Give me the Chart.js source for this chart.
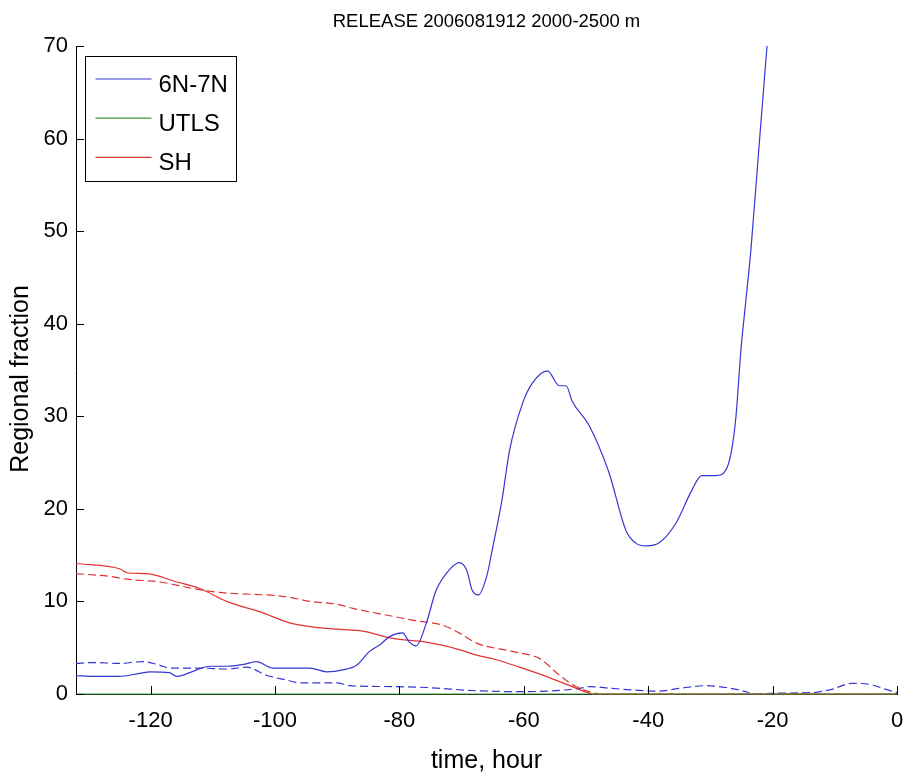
<!DOCTYPE html>
<html>
<head>
<meta charset="utf-8">
<script src="https://cdn.jsdelivr.net/npm/chart.js@4"></script>
<style>
  html, body { margin: 0; padding: 0; background: #fff; }
  canvas { display: block; }
</style>
</head>
<body>
<canvas id="chart" width="904" height="773"></canvas>
<script>
const TITLE = "RELEASE 2006081912 2000-2500 m";
const X_LABEL = "time, hour";
const Y_LABEL = "Regional fraction";
const X_TICKS = [-120, -100, -80, -60, -40, -20, 0];
const Y_TICKS = [0, 10, 20, 30, 40, 50, 60, 70];

// 6N-7N, solid
const blueHours = [-132, -129, -125, -122, -120, -117, -115.8, -113, -110.5, -107.8, -105, -103, -100.4, -97, -94.4, -91.7, -89.1, -86.9, -84.8, -83, -81.6, -79.5, -78.4, -77.3, -75.7, -74.1, -72, -70.4, -69.2, -68.3, -67.3, -65.9, -65.1, -63.5, -62.3, -60.2, -58.6, -56.2, -54.3, -53.2, -52.2, -49.5, -46.3, -43.6, -42, -40.3, -38.3, -35.5, -33, -31.4, -29.1, -27.3, -26.5, -25.9, -25.1, -24.3, -23.5, -22.2, -20.9];
const blueValues = [2.0, 1.9, 1.9, 2.2, 2.4, 2.3, 1.9, 2.5, 3.0, 3.0, 3.2, 3.5, 2.8, 2.8, 2.8, 2.4, 2.6, 3.1, 4.6, 5.4, 6.2, 6.6, 5.6, 5.2, 7.6, 11.2, 13.4, 14.2, 13.4, 11.2, 10.7, 12.9, 15.5, 21, 26.3, 31.4, 33.6, 34.9, 33.3, 33.3, 31.6, 29.0, 23.9, 17.7, 16.3, 16.0, 16.3, 18.5, 22.0, 23.6, 23.6, 24.5, 26.7, 29.9, 37.1, 42.5, 47.9, 59, 70];

// 6N-7N, dashed
const blueDashHours = [-132, -129.3, -125, -121.2, -118.5, -117, -112, -107.8, -104.6, -101.3, -98.1, -96, -90.1, -88, -81.1, -75.7, -67.6, -60.2, -51.1, -49.5, -45.8, -41.5, -38.3, -35.1, -30.7, -27.5, -24.3, -23.3, -19, -13.7, -10.5, -7.3, -4.1, -1.8, 0];
const blueDashValues = [3.3, 3.4, 3.3, 3.5, 3.1, 2.8, 2.8, 2.7, 2.9, 2.0, 1.5, 1.2, 1.2, 0.9, 0.8, 0.7, 0.35, 0.25, 0.6, 0.8, 0.6, 0.4, 0.3, 0.6, 0.9, 0.7, 0.25, 0, 0.1, 0.15, 0.5, 1.15, 1.0, 0.5, 0.15];

// UTLS
const greenHours = [-132, 0];
const greenValues = [0, 0];

// SH, solid
const redHours = [-132, -124.9, -123.8, -120.6, -115.8, -112.1, -107.8, -102.5, -97.2, -90.1, -85.9, -81.1, -75.7, -70.4, -67.6, -64.4, -60.7, -56.4, -52.2, -49.5, -48.7, 0];
const redValues = [14.1, 13.5, 13.1, 13.0, 12.1, 11.4, 10.0, 8.9, 7.6, 7.0, 6.8, 6.0, 5.6, 4.8, 4.2, 3.7, 2.9, 1.9, 0.8, 0.1, 0, 0];

// SH, dashed
const redDashHours = [-132, -126.5, -123.8, -118.5, -113.2, -109.4, -98.1, -94.4, -90.1, -87.5, -81.1, -77.3, -73.1, -70.4, -67.6, -61.9, -57.5, -56.4, -54.3, -51.6, -49, -47.6, 0];
const redDashValues = [13.0, 12.7, 12.4, 12.1, 11.4, 11.0, 10.5, 10.0, 9.7, 9.25, 8.4, 7.9, 7.45, 6.6, 5.5, 4.6, 3.85, 3.3, 2.05, 0.8, 0.15, 0, 0];

const BLUE = "#3636d4";
const GREEN = "#3c9c3c";
const RED = "#e03434";
const FONT = "Liberation Sans, Arial, sans-serif";

function toPoints(xs, ys) {
  return xs.map((x, i) => ({ x, y: ys[i] }));
}

function lineSet(label, xs, ys, color, dash) {
  return {
    label,
    data: toPoints(xs, ys),
    borderColor: color,
    backgroundColor: color,
    borderWidth: 1.2,
    borderDash: dash || [],
    pointRadius: 0,
    cubicInterpolationMode: "monotone",
    fill: false,
    clip: false,
  };
}

// matlab-style inward ticks, boxed legend, titles
const matlabLook = {
  id: "matlabLook",
  afterDraw(chart) {
    const { ctx, chartArea, scales } = chart;
    ctx.save();
    ctx.strokeStyle = "#000";
    ctx.lineWidth = 1;
    ctx.beginPath();
    X_TICKS.forEach((v) => {
      const px = Math.round(scales.x.getPixelForValue(v)) + 0.5;
      ctx.moveTo(px, chartArea.bottom);
      ctx.lineTo(px, chartArea.bottom - 8);
    });
    Y_TICKS.forEach((v) => {
      const py = Math.round(scales.y.getPixelForValue(v)) + 0.5;
      ctx.moveTo(chartArea.left, py);
      ctx.lineTo(chartArea.left + 8, py);
    });
    ctx.stroke();

    const midX = (chartArea.left + chartArea.right) / 2;
    ctx.fillStyle = "#000";
    ctx.textAlign = "center";
    ctx.textBaseline = "alphabetic";
    ctx.font = `18.5px ${FONT}`;
    ctx.fillText(TITLE, midX, 27);

    ctx.font = `25px ${FONT}`;
    ctx.fillText(X_LABEL, midX, 768);

    ctx.save();
    ctx.translate(28, 379);
    ctx.rotate(-Math.PI / 2);
    ctx.fillText(Y_LABEL, 0, 0);
    ctx.restore();

    // legend box
    const lx = chartArea.left + 9.5;
    const ly = chartArea.top + 10.5;
    ctx.fillStyle = "#fff";
    ctx.fillRect(lx, ly, 151, 125);
    ctx.strokeStyle = "#000";
    ctx.strokeRect(lx, ly, 151, 125);
    ctx.font = `24px ${FONT}`;
    ctx.textAlign = "left";
    const entries = chart.data.datasets.filter((d) => d.label);
    entries.forEach((d, i) => {
      const y = ly + 22.5 + i * 39.2;
      ctx.strokeStyle = d.borderColor;
      ctx.lineWidth = 1.2;
      ctx.beginPath();
      ctx.moveTo(lx + 10, y);
      ctx.lineTo(lx + 66, y);
      ctx.stroke();
      ctx.fillStyle = "#000";
      ctx.fillText(d.label, lx + 73, y + 12.5);
    });
    ctx.restore();
  },
};

new Chart(document.getElementById("chart"), {
  type: "line",
  data: {
    datasets: [
      lineSet("6N-7N", blueHours, blueValues, BLUE),
      lineSet("UTLS", greenHours, greenValues, GREEN),
      lineSet("SH", redHours, redValues, RED),
      lineSet("", blueDashHours, blueDashValues, BLUE, [8, 4]),
      lineSet("", redDashHours, redDashValues, RED, [8, 4]),
    ],
  },
  options: {
    responsive: false,
    animation: false,
    layout: { padding: { top: 46, right: 7, left: 0, bottom: 0 } },
    plugins: {
      legend: { display: false },
      tooltip: { enabled: false },
    },
    scales: {
      x: {
        type: "linear",
        min: -132,
        max: 0,
        afterBuildTicks(scale) {
          scale.ticks = X_TICKS.map((value) => ({ value }));
        },
        afterFit(scale) {
          scale.height = 79;
          scale.paddingLeft = 0;
          scale.paddingRight = 0;
        },
        grid: { drawOnChartArea: false, drawTicks: false },
        border: { display: true, color: "#000", width: 1 },
        ticks: {
          color: "#000",
          padding: 14,
          maxRotation: 0,
          font: { family: FONT, size: 22 },
        },
      },
      y: {
        type: "linear",
        min: 0,
        max: 70,
        afterBuildTicks(scale) {
          scale.ticks = Y_TICKS.map((value) => ({ value }));
        },
        afterFit(scale) {
          scale.width = 76;
          scale.paddingTop = 0;
          scale.paddingBottom = 0;
        },
        grid: { drawOnChartArea: false, drawTicks: false },
        border: { display: true, color: "#000", width: 1 },
        ticks: {
          color: "#000",
          padding: 8,
          font: { family: FONT, size: 22 },
        },
      },
    },
  },
  plugins: [matlabLook],
});
</script>
</body>
</html>
